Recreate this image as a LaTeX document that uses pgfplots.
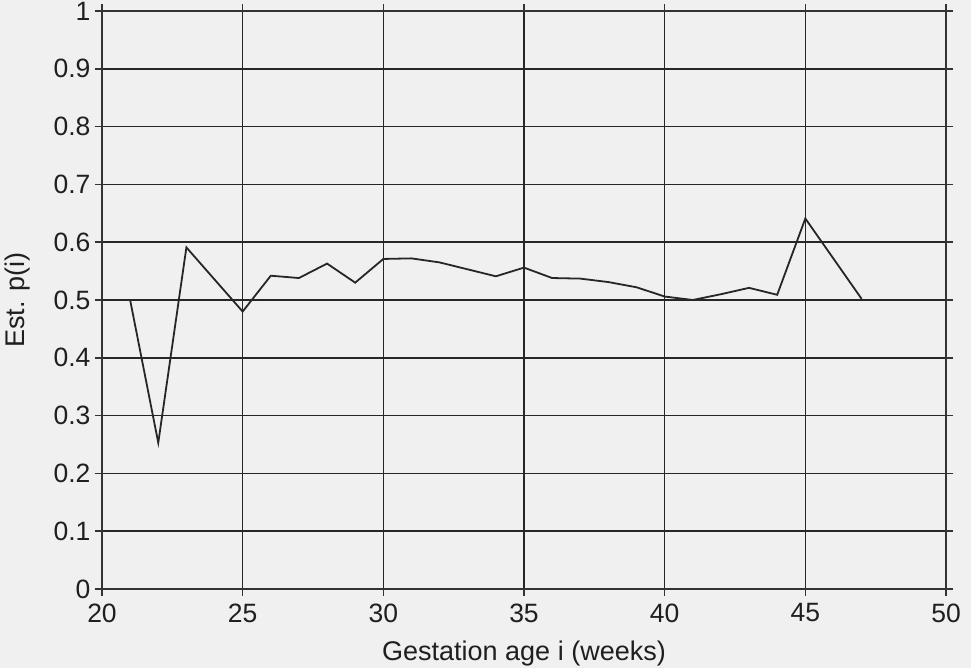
\documentclass[border=0pt]{standalone}
\usepackage{pgfplots}
\pgfplotsset{compat=1.18}
\usepackage{fontspec}
\setmainfont{Liberation Sans}
\begin{document}
\begin{tikzpicture}
\fill[black!6] (-102pt,-79pt) rectangle (869pt,589pt);
\useasboundingbox (-102pt,-79pt) rectangle (869pt,589pt);
\begin{axis}[
  scale only axis,
  width=844pt, height=578pt,
  at={(0,0)}, anchor=south west,
  xmin=20, xmax=50, ymin=0, ymax=1,
  xtick={20,25,30,35,40,45,50},
  ytick={0,0.1,0.2,0.3,0.4,0.5,0.6,0.7,0.8,0.9,1},
  yticklabels={0,0.1,0.2,0.3,0.4,0.5,0.6,0.7,0.8,0.9,1},
  grid=major,
  major grid style={black!85, line width=1.6pt},
  axis line style={black!80, line width=1.6pt},
  tick align=outside,
  major tick length=7pt,
  tick style={black!80, line width=1.6pt},
  ticklabel style={font=\fontsize{26.5}{30}\selectfont, text=black!88},
  /pgf/number format/assume math mode=true,
  xlabel={Gestation age i (weeks)},
  ylabel={Est. p(i)},
  label style={font=\fontsize{27}{31}\selectfont, text=black!88},
  xlabel style={at={(axis description cs:0.5,0)}, anchor=center, yshift=-65pt},
  ylabel style={at={(axis description cs:-0.0995,0.5)}, anchor=center},
  xticklabel style={yshift=-4pt},
  yticklabel style={xshift=-1pt},
]
\addplot[black!85, line width=1.8pt, sharp plot] coordinates {
(21,0.500) (22,0.253) (23,0.591) (25,0.480) (26,0.542) (27,0.538)
(28,0.563) (29,0.530) (30,0.571) (31,0.572) (32,0.565) (33,0.553)
(34,0.541) (35,0.556) (36,0.538) (37,0.537) (38,0.531) (39,0.522)
(40,0.506) (41,0.500) (42,0.510) (43,0.521) (44,0.509) (45,0.641)
(47,0.502)
};
\end{axis}
\end{tikzpicture}
\end{document}
